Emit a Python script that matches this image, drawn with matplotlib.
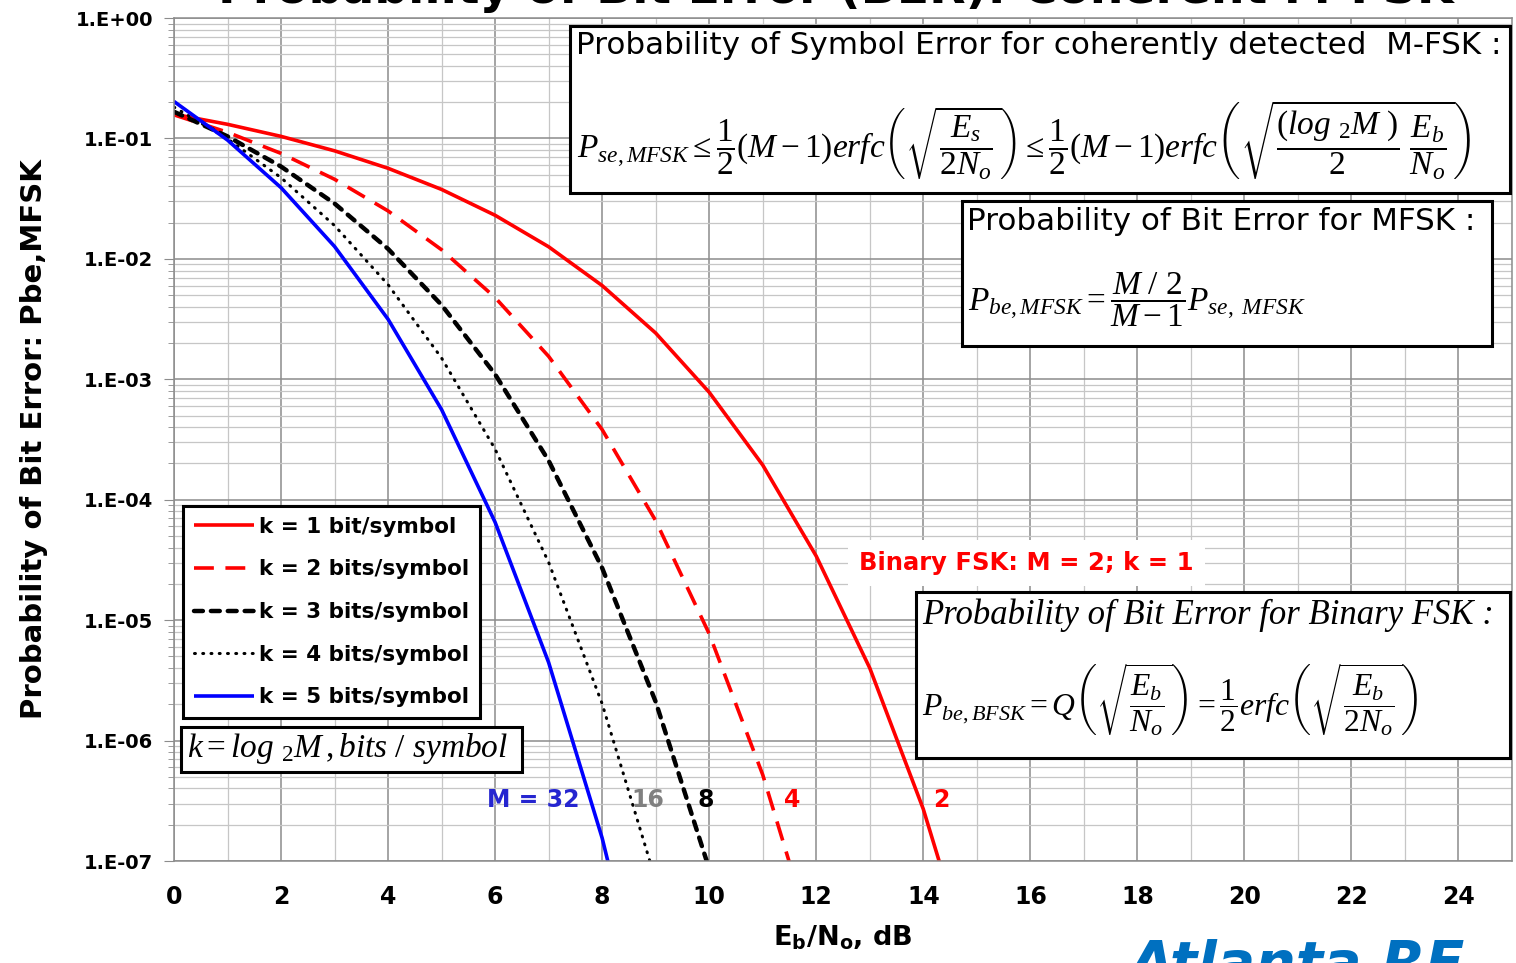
import numpy as np
import matplotlib
matplotlib.use('Agg')
import matplotlib.pyplot as plt
from matplotlib.patches import Rectangle
from matplotlib.ticker import FuncFormatter, LogLocator, MultipleLocator, NullFormatter

# Eb/No grid (dB) and bit error probability, per bits/symbol
ebno_db = [0, 1, 2, 3, 4, 5, 6, 7, 8, 9, 10, 11, 12, 13, 14, 15]
ber_k1 = [0.159, 0.131, 0.104, 0.0789, 0.0565, 0.0377, 0.0230, 0.0126, 0.00600,
          0.00242, 7.8e-4, 1.94e-4, 3.4e-5, 4.0e-6, 2.7e-7, 9.4e-9]
ber_k2 = [0.157, 0.1125, 0.0751, 0.0458, 0.0250, 0.0119, 0.00477, 1.55e-3,
          3.82e-4, 6.7e-5, 7.7e-6, 5.2e-7, 1.8e-8]
ber_k3 = [0.1665, 0.104, 0.0584, 0.0288, 0.0121, 0.00414, 1.10e-3, 2.11e-4,
          2.71e-5, 2.10e-6, 8.6e-8, 1.6e-9]
ber_k4 = [0.182, 0.0993, 0.0472, 0.0189, 6.10e-3, 1.50e-3, 2.63e-4, 3.02e-5,
          2.02e-6, 6.9e-8, 1.0e-9]
ber_k5 = [0.2027, 0.0969, 0.0390, 0.01267, 3.15e-3, 5.60e-4, 6.50e-5, 4.45e-6,
          1.55e-7, 2.4e-9]

labels = ['k = 1 bit/symbol', 'k = 2 bits/symbol', 'k = 3 bits/symbol',
          'k = 4 bits/symbol', 'k = 5 bits/symbol']

plt.rcParams['font.family'] = ['DejaVu Sans']
plt.rcParams['font.weight'] = 'bold'
plt.rcParams['mathtext.fontset'] = 'custom'
plt.rcParams['mathtext.rm'] = 'Liberation Serif:weight=normal'
plt.rcParams['mathtext.it'] = 'Liberation Serif:style=italic:weight=normal'
plt.rcParams['mathtext.bf'] = 'DejaVu Sans:weight=bold'

W, H = 1516, 963


def fx(px):
    return px / W


def fy(py):
    return 1 - py / H


fig = plt.figure(figsize=(W / 100, H / 100), dpi=100)
ax = fig.add_axes([fx(174), fy(861), (1512 - 174) / W, (861 - 18) / H])

l1, = ax.plot(ebno_db[:len(ber_k1)], ber_k1, color='red', lw=2.6, solid_capstyle='butt')
l2, = ax.plot(ebno_db[:len(ber_k2)], ber_k2, color='red', lw=2.6,
              dashes=(5.5, 3.2), dash_capstyle='butt')
l3, = ax.plot(ebno_db[:len(ber_k3)], ber_k3, color='black', lw=3.2,
              dashes=(2.0, 1.8), dash_capstyle='round')
l4, = ax.plot(ebno_db[:len(ber_k4)], ber_k4, color='black', lw=2.2,
              dashes=(0.3, 2.4), dash_capstyle='round')
l5, = ax.plot(ebno_db[:len(ber_k5)], ber_k5, color='blue', lw=2.6, solid_capstyle='butt')

ax.set_yscale('log')
ax.set_xlim(0, 25)
ax.set_ylim(1e-7, 1)
ax.xaxis.set_major_locator(MultipleLocator(2))
ax.xaxis.set_minor_locator(MultipleLocator(1))
ax.yaxis.set_major_locator(LogLocator(base=10, numticks=20))
ax.yaxis.set_minor_locator(LogLocator(base=10, subs=np.arange(2, 10), numticks=20))
ax.yaxis.set_minor_formatter(NullFormatter())
ax.yaxis.set_major_formatter(FuncFormatter(lambda v, _: '1.E%+03d' % round(np.log10(v))))

ax.set_axisbelow(True)
ax.grid(which='major', color='#8c8c8c', lw=1.1)
ax.grid(which='minor', color='#c6c6c6', lw=0.9)
for s in ax.spines.values():
    s.set_color('#8c8c8c')
    s.set_linewidth(1.1)

ax.tick_params(axis='x', which='both', length=0, labelsize=17, pad=17)
ax.tick_params(axis='y', which='major', length=7, color='#8c8c8c', labelsize=14, pad=8)
ax.tick_params(axis='y', which='minor', length=4, color='#8c8c8c')

ax.set_xlabel(r'$\mathbf{E_b}$/$\mathbf{N_o}$, dB', fontsize=19.5, weight='bold', va='top')
ax.xaxis.set_label_coords(0.5, -0.074)
ax.set_ylabel('Probability of Bit Error: Pbe,MFSK', fontsize=21, weight='bold')
ax.yaxis.set_label_coords(-0.094, 0.5)

leg = ax.legend([l1, l2, l3, l4, l5], labels, loc='upper left',
                bbox_to_anchor=(0.0067, 0.421), borderaxespad=0, fancybox=False,
                framealpha=1, edgecolor='black', prop={'weight': 'bold', 'size': 15.5},
                handlelength=2.8, handletextpad=0.25, labelspacing=1.05, borderpad=0.5)
leg.get_frame().set_linewidth(2.2)

# curve labels near the bottom
ylab = 3.2e-7
ax.text(6.71, ylab, 'M = 32', color='#2525d0', fontsize=17, ha='center', va='center')
ax.text(8.86, ylab, '16', color='#808080', fontsize=17, ha='center', va='center')
ax.text(9.93, ylab, '8', color='black', fontsize=17, ha='center', va='center')
ax.text(11.55, ylab, '4', color='red', fontsize=17, ha='center', va='center')
ax.text(14.34, ylab, '2', color='red', fontsize=17, ha='center', va='center')

ax.text(15.93, 3.0e-5, 'Binary FSK: M = 2; k = 1', color='red', fontsize=17.5,
        ha='center', va='center',
        bbox=dict(facecolor='white', edgecolor='none', pad=8))


def box(x0, y0, x1, y1):
    r = Rectangle((fx(x0), fy(y1)), fx(x1) - fx(x0), fy(y0) - fy(y1),
                  transform=fig.transFigure, facecolor='white', edgecolor='black',
                  lw=2.2, zorder=2)
    fig.add_artist(r)


def formula(px, py, s, size):
    fig.text(fx(px), fy(py), s, fontsize=size, weight='normal',
             ha='left', va='center', zorder=3)


# formula boxes
box(570, 26, 1510, 193)
fig.text(fx(576), fy(46), 'Probability of Symbol Error for coherently detected  M-FSK :',
         fontsize=22.3, weight='normal', ha='left', va='center', zorder=3)
formula(577, 140,
        r'$P_{se,MFSK} \leq \dfrac{1}{2}(M-1)erfc\left(\sqrt{\dfrac{E_s}{2N_o}}\right)'
        r' \leq \dfrac{1}{2}(M-1)erfc\left(\sqrt{\dfrac{(log\ {}_2M\ )}{2}\ \dfrac{E_b}{N_o}}\right)$',
        24)

box(962, 201, 1492, 346)
fig.text(fx(967), fy(222), 'Probability of Bit Error for MFSK :',
         fontsize=22.3, weight='normal', ha='left', va='center', zorder=3)
formula(968, 300, r'$P_{be,MFSK} = \dfrac{M\ /\ 2}{M-1}P_{se,\ MFSK}$', 24)

box(916, 592, 1510, 758)
fig.text(fx(922), fy(615), 'Probability of Bit Error for Binary FSK :',
         family='Liberation Serif', style='italic', weight='normal',
         fontsize=25, ha='left', va='center', zorder=3)
formula(922, 700,
        r'$P_{be,BFSK} = Q\left(\sqrt{\dfrac{E_b}{N_o}}\right) = \dfrac{1}{2}erfc\left(\sqrt{\dfrac{E_b}{2N_o}}\right)$',
        22.8)

box(181, 727, 522, 772)
formula(187, 748, r'$k = log\ {}_2M\,,bits\ /\ symbol$', 24)

# title and logo, cut by the image edges
fig.text(fx(836), fy(3), 'Probability of Bit Error (BER): Coherent M-FSK',
         fontsize=34, ha='center', va='baseline')
fig.text(fx(1130), fy(982), 'Atlanta RF', color='#0070c0', fontsize=41,
         style='italic', ha='left', va='baseline')

fig.savefig('out.png', dpi=100)
